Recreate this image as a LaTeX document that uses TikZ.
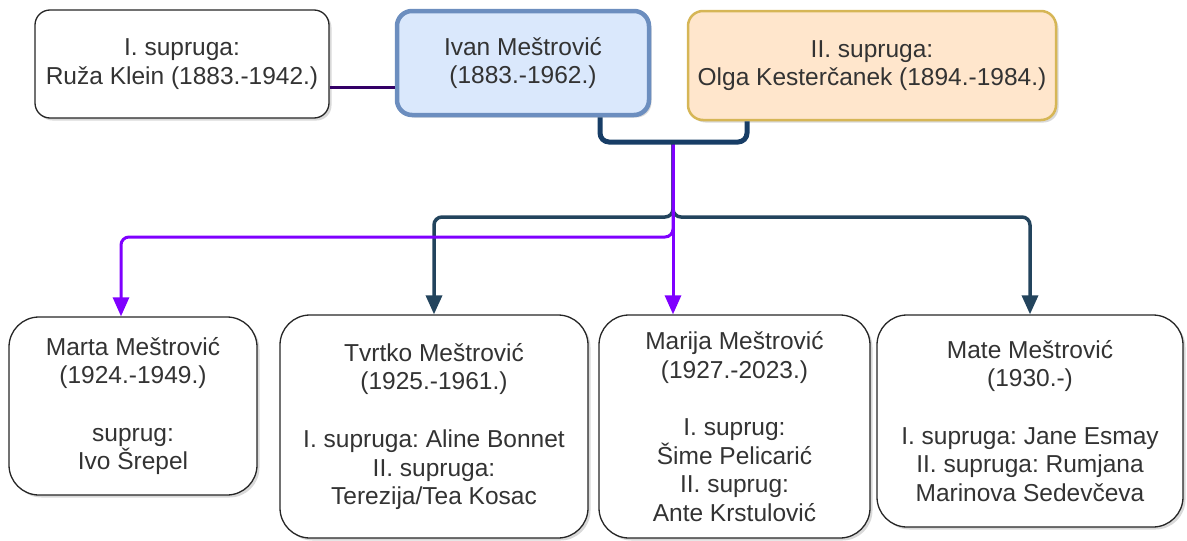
\documentclass[tikz,border=0pt]{standalone}
\usepackage{fontspec}
\setmainfont{Liberation Sans}
\usetikzlibrary{arrows.meta,shadows}
\frenchspacing

\definecolor{ivanfill}{HTML}{DAE8FC}
\definecolor{ivanline}{HTML}{6C8EBF}
\definecolor{olgafill}{HTML}{FFE6CC}
\definecolor{olgaline}{HTML}{D6B656}
\definecolor{wedline}{HTML}{330066}
\definecolor{bracketline}{HTML}{173D66}
\definecolor{navyline}{HTML}{23445D}
\definecolor{violetline}{HTML}{7F00FF}
\definecolor{textgray}{HTML}{333333}

\begin{document}
\begin{tikzpicture}[x=1pt,y=-1pt,
    every node/.style={font=\fontsize{24.5}{28.7}\selectfont,text=textgray,align=center},
    person/.style={draw=black!85,line width=1.3pt,fill=white,rounded corners=15pt,inner sep=0pt,
        drop shadow={shadow xshift=2.5pt,shadow yshift=-2.5pt,opacity=0.3}},
    child/.style={person,rounded corners=30pt},
    wed/.style={wedline,line width=3pt},
    bracket/.style={bracketline,line width=5pt,rounded corners=9pt},
    sonline/.style={navyline,line width=3.5pt,rounded corners=8pt,-{Triangle[width=16pt,length=19pt]}},
    daughterline/.style={violetline,line width=3pt,rounded corners=8pt,-{Triangle[width=16pt,length=19pt]}}]

    \useasboundingbox (0,0) rectangle (1187,541);

    % parents
    \node[person,minimum width=294pt,minimum height=108pt] (ruza) at (182,64) {I. supruga:\\Ruža Klein (1883.-1942.)};
    \node[person,draw=ivanline,fill=ivanfill,line width=4.5pt,minimum width=252pt,minimum height=104pt] (ivan) at (523,63) {Ivan Meštrović\\(1883.-1962.)};
    \node[person,draw=olgaline,fill=olgafill,line width=2.5pt,minimum width=368pt,minimum height=109pt] (olga) at (872,65.5) {II. supruga:\\Olga Kesterčanek (1894.-1984.)};

    % first marriage
    \draw[wed] ([yshift=-23pt]ruza.east) to ([yshift=-24pt]ivan.west);

    %%%%%%%%%%%%%%%%%%%%%%%%%%%%%%%%%%%%%%%%%%%%%%%%%%%%%%%%%

    % children
    \node[child,minimum width=248pt,minimum height=178pt] (marta) at (133,406) {Marta Meštrović\\(1924.-1949.)\\[28.7pt]suprug:\\Ivo Šrepel};
    \node[child,minimum width=308pt,minimum height=223pt] (tvrtko) at (434,426.5) {Tvrtko Meštrović\\(1925.-1961.)\\[28.7pt]I. supruga: Aline Bonnet\\II. supruga:\\Terezija/Tea Kosac};
    \node[child,minimum width=271pt,minimum height=223pt] (marija) at (734.5,426.5) {Marija Meštrović\\(1927.-2023.)\\[28.7pt]I. suprug:\\Šime Pelicarić\\II. suprug:\\Ante Krstulović};
    \node[child,minimum width=306pt,minimum height=212pt] (mate) at (1030,421) {Mate Meštrović\\(1930.-)\\[28.7pt]I. supruga: Jane Esmay\\II. supruga: Rumjana\\Marinova Sedevčeva};

    % second marriage and its children
    \coordinate (fork) at (673,142);
    \coordinate (navybar) at (673,217);
    \coordinate (violetbar) at (673,237);
    \draw[sonline] (fork) to (navybar) -| (tvrtko.north);
    \draw[sonline] (fork) to (navybar) -| (mate.north);
    \draw[daughterline] (fork) to (violetbar) -| ([xshift=-12pt]marta.north);
    \draw[daughterline] (fork) to (fork |- marija.north);
    \draw[bracket] ([xshift=77pt]ivan.south) |- (fork) -| ([xshift=-125pt]olga.south);

\end{tikzpicture}
\end{document}
